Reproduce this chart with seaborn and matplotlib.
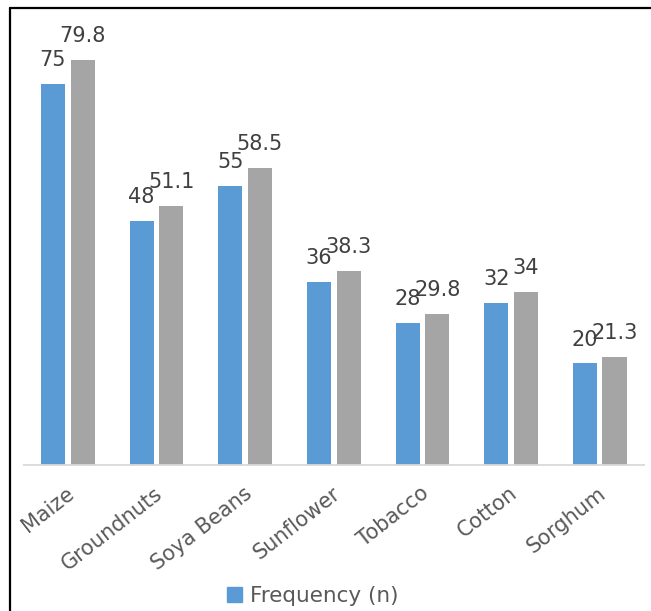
import matplotlib
matplotlib.use("Agg")
import matplotlib.pyplot as plt
import matplotlib.transforms as mtransforms
from matplotlib.lines import Line2D
from matplotlib.patches import Patch
import seaborn as sns
import pandas as pd

crops = ["Maize", "Groundnuts", "Soya Beans", "Sunflower", "Tobacco", "Cotton", "Sorghum"]
frequency = [75, 48, 55, 36, 28, 32, 20]
percentage = [79.8, 51.1, 58.5, 38.3, 29.8, 34, 21.3]
series_names = ["Frequency (n)", "Percentage (%)"]
colors = ["#5B9BD5", "#A5A5A5"]

df = pd.DataFrame({
    "crop": crops * 2,
    "value": frequency + percentage,
    "series": [series_names[0]] * len(crops) + [series_names[1]] * len(crops),
})

sns.set_style("white")
plt.rcParams["font.family"] = ["DejaVu Sans"]

W, H = 651, 611
fig = plt.figure(figsize=(W / 100, H / 100), dpi=100)
ax = fig.add_axes([23.5 / W, (H - 465) / H, (644 - 23.5) / W, (465 - 8) / H])

sns.barplot(data=df, x="crop", y="value", hue="series", palette=colors,
            width=0.67, gap=0.19, ax=ax, legend=False, saturation=1,
            edgecolor="none")

ax.set_ylim(0, 90)
ax.set_xlim(-0.5, len(crops) - 0.5)
ax.set_xlabel("")
ax.set_ylabel("")
ax.set_yticks([])
for side in ["top", "right", "left"]:
    ax.spines[side].set_visible(False)
ax.spines["bottom"].set_color("#D9D9D9")
ax.spines["bottom"].set_linewidth(1.3)
ax.tick_params(axis="x", length=0, pad=13)
shift = mtransforms.ScaledTranslation(-2 / 100, 0, fig.dpi_scale_trans)
for lbl in ax.get_xticklabels():
    lbl.set_rotation(38)
    lbl.set_ha("right")
    lbl.set_rotation_mode("anchor")
    lbl.set_fontsize(15)
    lbl.set_color("#595959")
    lbl.set_transform(lbl.get_transform() + shift)

# value labels above each bar
for container in ax.containers:
    ax.bar_label(container, labels=[f"{v:g}" for v in container.datavalues],
                 padding=10, fontsize=15, color="#404040")

# legend (first series only)
fig.legend(handles=[Patch(color=colors[0], label=series_names[0])],
           loc="center left", bbox_to_anchor=(227 / W, 0.025),
           frameon=False, fontsize=15.5, handlelength=0.68, handleheight=0.68,
           handletextpad=0.4, borderpad=0, borderaxespad=0, labelcolor="#595959")

# outer frame on the left and top
top = (H - 8) / H
fig.add_artist(Line2D([10 / W, 10 / W], [0, top], color="black", lw=1.6,
                      transform=fig.transFigure))
fig.add_artist(Line2D([10 / W, 1], [top, top], color="black", lw=1.6,
                      transform=fig.transFigure))

fig.savefig("out.png", dpi=100)
